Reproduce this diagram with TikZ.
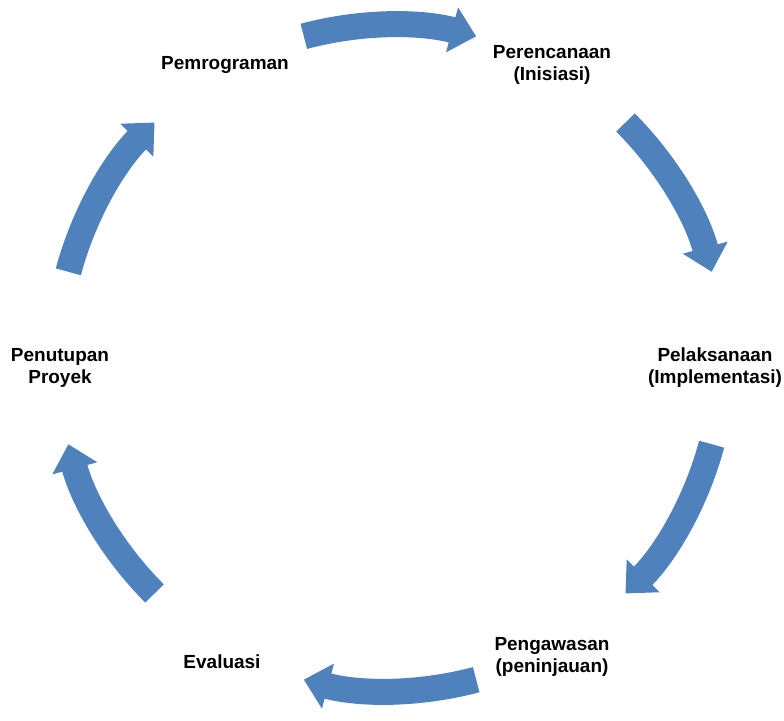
\documentclass[tikz,border=0pt]{standalone}
\usepackage{fontspec}
\setmainfont{Liberation Sans}
\usetikzlibrary{arrows.meta}
\definecolor{cycleblue}{RGB}{79,129,189}

\begin{document}
\begin{tikzpicture}[x=1cm,y=1cm]
\tikzset{
  steplabel/.style={font=\bfseries\fontsize{10.8}{12.5}\selectfont,align=center,inner sep=0pt},
  cyclearrow/.style={draw=cycleblue,line width=5.2mm,-{Triangle[length=5mm 0 0,width=9mm 0 0]}}
}
\useasboundingbox (0,0) rectangle (15.68,14.4);
\coordinate (c) at (7.8,7.24);
\node[steplabel] (n_prog) at (4.50,13.10) {Pemrograman};
\node[steplabel] (n_renc) at (11.04,13.10) {Perencanaan\\(Inisiasi)};
\node[steplabel] (n_laks) at (14.30,7.04) {Pelaksanaan\\(Implementasi)};
\node[steplabel] (n_awas) at (11.04,1.26) {Pengawasan\\(peninjauan)};
\node[steplabel] (n_eval) at (4.44,1.16) {Evaluasi};
\node[steplabel] (n_tutup) at (1.20,7.04) {Penutupan\\Proyek};
\foreach \a/\k in {90/a,30/b,-30/c,-90/d,-150/e,150/f} {
  \coordinate (s_\k) at ([shift={(\a+15:6.66)}]c);
  \draw[cyclearrow] (s_\k) arc[start angle=\a+15, end angle=\a-15, radius=6.66];
}
\end{tikzpicture}
\end{document}
